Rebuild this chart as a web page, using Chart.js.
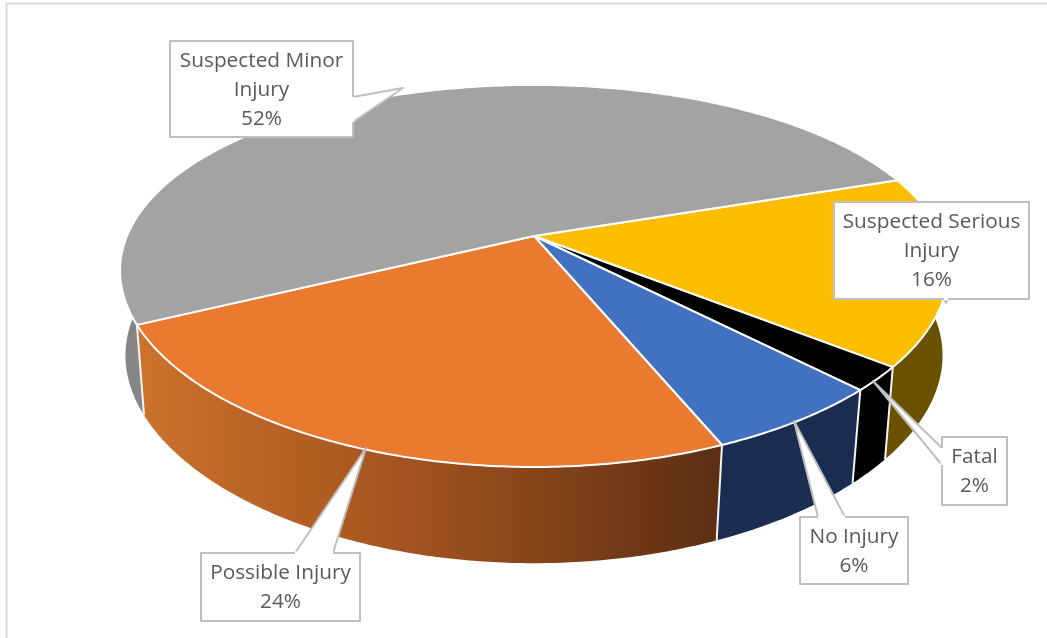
<!DOCTYPE html>
<html>
<head>
<meta charset="utf-8">
<style>html,body{margin:0;padding:0;background:#fff}canvas{display:block}</style>
<script src="https://cdn.jsdelivr.net/npm/chart.js@4"></script>
</head>
<body>
<canvas id="c" width="1047" height="638"></canvas>
<script>
const categories = ['Suspected Serious Injury', 'Fatal', 'No Injury', 'Possible Injury', 'Suspected Minor Injury'];
const shares = [16, 2, 6, 24, 52];
const topColors = ['#FDBE00', '#000000', '#4271C2', '#E97A2F', '#A3A3A3'];
const wallColors = ['#6A5100', '#000000', '#1A2C50', null, '#858585'];
const labelLines = [['Suspected Serious', 'Injury'], ['Fatal'], ['No Injury'], ['Possible Injury'], ['Suspected Minor', 'Injury']];

// Callout layout: box [x0,y0,x1,y1], leader polygon [base A, tip, base B]
const callouts = [
  {box:[834,202,1029,299], lead:[[944,299],[946,303],[948,299]]},
  {box:[942,437,1007,505], lead:[[942,448],[873,381],[942,465]]},
  {box:[800,517,908,584], lead:[[818,517],[794,421],[845,517]]},
  {box:[201,553,360,621], lead:[[295,553],[366,448],[333,553]]},
  {box:[170,41,353,137], lead:[[353,97],[403,88],[353,122]]}
];

// Projection of the pie disc on the page (perspective view)
const P = {x0:534, y0:236, R:407, kx:0.182, a:182.7, k:0.209, depth:87, bx:0.99, bkx:0.165, sy:1.04};
const topPt = (t) => {
  const u = Math.cos(t), v = Math.sin(t);
  return [P.x0 + P.R * u / (1 - P.kx * v), P.y0 + P.a * v / (1 - P.k * v)];
};
const botPt = (t) => {
  const u = Math.cos(t), v = Math.sin(t);
  return [P.x0 + P.bx * P.R * u / (1 - P.bkx * v), P.y0 + P.depth + P.sy * P.a * v / (1 - P.k * v)];
};
const sample = (a, b, fn) => {
  const n = Math.max(2, Math.ceil(Math.abs(b - a) / 0.01)), out = [];
  for (let i = 0; i <= n; i++) out.push(fn(a + (b - a) * i / n));
  return out;
};
const trace = (ctx, pts) => { pts.forEach((p, i) => i ? ctx.lineTo(p[0], p[1]) : ctx.moveTo(p[0], p[1])); };
const traceOn = (ctx, pts) => { pts.forEach((p) => ctx.lineTo(p[0], p[1])); };

const pie3d = {
  id: 'pie3d',
  beforeDatasetsDraw(chart) {
    const ctx = chart.ctx, arcs = chart.getDatasetMeta(0).data;
    // frame
    ctx.save();
    ctx.strokeStyle = '#DCDCDC'; ctx.lineWidth = 2;
    ctx.beginPath(); ctx.moveTo(6.5, 638); ctx.lineTo(6.5, 3.5); ctx.lineTo(1047, 3.5); ctx.stroke();
    // walls, front half only
    const lo = -8 * Math.PI / 180, hi = 188 * Math.PI / 180, TAU = Math.PI * 2;
    arcs.forEach((el, i) => {
      const s = el.startAngle, e = el.endAngle;
      for (const shift of [-TAU, 0, TAU]) {
        const a = Math.max(s + shift, lo), b = Math.min(e + shift, hi);
        if (b <= a) continue;
        ctx.beginPath();
        trace(ctx, sample(a, b, topPt).concat(sample(b, a, botPt)));
        ctx.closePath();
        if (wallColors[i]) ctx.fillStyle = wallColors[i];
        else {
          const g = ctx.createLinearGradient(135, 0, 722, 0);
          g.addColorStop(0, '#CC722C'); g.addColorStop(0.45, '#A4541F'); g.addColorStop(1, '#5C2E14');
          ctx.fillStyle = g;
        }
        ctx.fill();
      }
    });
    // wall seams
    ctx.strokeStyle = '#F4F4F4'; ctx.lineWidth = 2;
    arcs.forEach((el) => {
      if (Math.sin(el.startAngle) < 0) return;
      const p = topPt(el.startAngle), q = botPt(el.startAngle);
      ctx.beginPath(); ctx.moveTo(p[0], p[1]); ctx.lineTo(q[0], q[1]); ctx.stroke();
    });
    // top faces
    arcs.forEach((el, i) => {
      ctx.beginPath();
      ctx.moveTo(P.x0, P.y0);
      traceOn(ctx, sample(el.startAngle, el.endAngle, topPt));
      ctx.closePath();
      ctx.fillStyle = topColors[i]; ctx.fill();
      ctx.strokeStyle = '#FFFFFF'; ctx.lineWidth = 2; ctx.lineJoin = 'round'; ctx.stroke();
    });
    // callouts
    ctx.font = '20.8px "Open Sans"'; ctx.textAlign = 'center'; ctx.textBaseline = 'middle';
    callouts.forEach((c, i) => {
      const [x0, y0, x1, y1] = c.box;
      ctx.beginPath();
      ctx.rect(x0, y0, x1 - x0, y1 - y0);
      ctx.fillStyle = '#FFFFFF'; ctx.fill();
      ctx.strokeStyle = '#BFBFBF'; ctx.lineWidth = 2; ctx.stroke();
      ctx.beginPath(); trace(ctx, c.lead); ctx.closePath(); ctx.fill();
      ctx.beginPath(); trace(ctx, c.lead); ctx.stroke();
      ctx.beginPath(); ctx.moveTo(c.lead[0][0], c.lead[0][1]); ctx.lineTo(c.lead[2][0], c.lead[2][1]);
      ctx.strokeStyle = '#FFFFFF'; ctx.lineWidth = 3; ctx.stroke();
      const lines = labelLines[i].concat([shares[i] + '%']);
      const mid = (y0 + y1) / 2 + 1, lh = 29;
      ctx.fillStyle = '#595959';
      lines.forEach((t, k) => ctx.fillText(t, (x0 + x1) / 2, mid + (k - (lines.length - 1) / 2) * lh));
    });
    ctx.restore();
    return false;
  }
};

new Chart(document.getElementById('c'), {
  type: 'pie',
  data: { labels: categories, datasets: [{ data: shares, backgroundColor: topColors, borderColor: '#FFFFFF' }] },
  options: {
    responsive: false,
    animation: false,
    rotation: 71,
    plugins: { legend: { display: false }, tooltip: { enabled: false } }
  },
  plugins: [pie3d]
});
</script>
</body>
</html>
